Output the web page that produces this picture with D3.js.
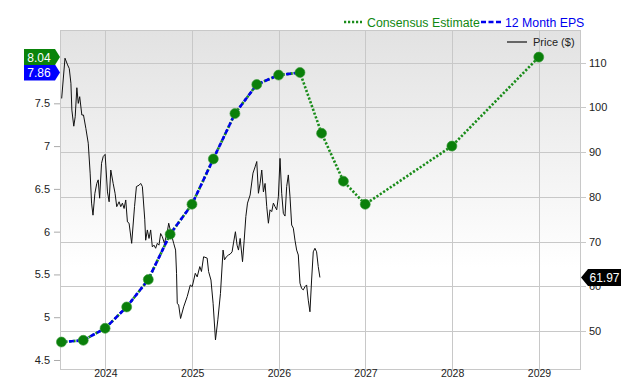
<!DOCTYPE html>
<html><head><meta charset="utf-8">
<script src="https://cdn.jsdelivr.net/npm/d3@7"></script>
<style>body{margin:0;background:#fff;}svg{display:block;font-family:"Liberation Sans",Arial,sans-serif;}</style>
</head><body>
<svg id="chart" width="640" height="380"></svg>
<script>
// ---- data ----
const epsDates = ["2023-06-30","2023-09-30","2023-12-31","2024-03-31","2024-06-30","2024-09-30","2024-12-31","2025-03-31","2025-06-30","2025-09-30","2025-12-31","2026-03-31"];
const epsValues = [4.71,4.73,4.87,5.12,5.44,5.97,6.32,6.85,7.38,7.72,7.83,7.86];
const estDates = ["2026-06-30","2026-09-30","2026-12-31","2027-12-31","2028-12-31"];
const estValues = [7.15,6.59,6.32,7.00,8.04];
const priceDates = ["2023-07-01","2023-07-15","2023-07-26","2023-08-02","2023-08-09","2023-08-13","2023-08-21","2023-08-27","2023-09-03","2023-09-09","2023-09-15","2023-09-24","2023-10-01","2023-10-11","2023-10-21","2023-10-29","2023-11-04","2023-11-10","2023-11-18","2023-11-26","2023-12-02","2023-12-08","2023-12-16","2023-12-23","2023-12-31","2024-01-03","2024-01-10","2024-01-17","2024-01-24","2024-02-03","2024-02-11","2024-02-18","2024-02-28","2024-03-06","2024-03-13","2024-03-20","2024-03-27","2024-04-03","2024-04-10","2024-04-21","2024-04-27","2024-05-03","2024-05-11","2024-05-22","2024-05-29","2024-06-05","2024-06-15","2024-06-19","2024-06-26","2024-07-03","2024-07-10","2024-07-17","2024-07-24","2024-07-31","2024-08-07","2024-08-14","2024-08-21","2024-08-28","2024-09-06","2024-09-18","2024-09-24","2024-10-04","2024-10-15","2024-10-23","2024-10-27","2024-10-30","2024-11-05","2024-11-13","2024-11-26","2024-12-11","2024-12-24","2025-01-01","2025-01-14","2025-01-22","2025-02-02","2025-02-09","2025-02-18","2025-03-05","2025-03-11","2025-03-21","2025-03-30","2025-04-09","2025-04-19","2025-04-30","2025-05-11","2025-05-17","2025-05-25","2025-06-03","2025-06-10","2025-06-18","2025-06-24","2025-07-02","2025-07-09","2025-07-15","2025-07-22","2025-08-01","2025-08-08","2025-08-15","2025-08-22","2025-09-02","2025-09-14","2025-09-23","2025-09-30","2025-10-07","2025-10-14","2025-10-21","2025-10-28","2025-11-04","2025-11-11","2025-11-18","2025-11-25","2025-12-02","2025-12-09","2025-12-16","2025-12-23","2025-12-30","2026-01-06","2026-01-13","2026-01-20","2026-01-27","2026-02-03","2026-02-10","2026-02-17","2026-02-24","2026-03-03","2026-03-10","2026-03-17","2026-03-24","2026-03-31","2026-04-07","2026-04-14","2026-04-21","2026-04-28","2026-05-05","2026-05-12","2026-05-19","2026-05-26","2026-06-02","2026-06-09","2026-06-16","2026-06-23"];
const priceValues = [102.0,111.0,109.5,108.7,105.4,99.4,95.8,97.9,104.4,100.9,102.4,98.3,98.3,95.3,92.0,85.3,78.6,75.9,80.8,83.0,83.8,79.7,87.5,89.0,89.5,87.1,81.1,78.9,86.0,83.0,80.8,77.8,78.9,77.8,78.6,77.4,79.3,74.4,74.1,69.6,73.7,77.8,82.3,82.6,83.0,82.3,75.0,70.3,72.6,70.7,72.6,68.8,69.2,68.5,69.6,69.2,71.8,71.1,69.6,72.2,74.1,71.8,69.6,68.1,62.9,56.2,55.8,52.8,55.4,57.7,60.3,59.9,62.9,62.1,64.4,63.3,66.6,66.3,63.3,61.4,56.2,48.0,52.5,58.4,68.1,65.9,66.6,67.0,67.2,67.7,69.7,72.2,69.2,68.1,70.7,65.5,70.3,75.6,78.6,80.4,85.3,86.7,87.9,80.8,83.0,86.0,81.1,83.0,77.8,74.1,77.1,76.7,78.6,77.8,77.1,80.0,88.6,80.8,76.3,75.7,82.3,84.9,80.0,73.7,73.0,70.3,68.1,67.0,60.7,59.5,59.2,59.9,60.3,56.9,54.3,61.4,67.7,68.5,67.7,64.4,61.97];
const epsTicks = [4.5,5,5.5,6,6.5,7,7.5];
const priceTicks = [50,60,70,80,90,100,110];
const yearTicks = ["2024","2025","2026","2027","2028","2029"];
const lastEst = 8.04, lastEps = 7.86, lastPrice = 61.97;

// ---- layout ----
const L = 60, R = 581, T = 30, B = 370;
const parse = d3.timeParse("%Y-%m-%d");
const svg = d3.select("#chart");

const x = d3.scaleTime().domain([parse("2023-06-24"), parse("2029-06-27")]).range([L, R]);
const yE = d3.scaleLinear().domain([4.383, 8.357]).range([B, T]);
const yP = d3.scaleLinear().domain([41.28, 117.31]).range([B, T]);

// background gradient
const defs = svg.append("defs");
const grad = defs.append("linearGradient").attr("id","bg").attr("x1",0).attr("y1",0).attr("x2",0).attr("y2",1);
grad.append("stop").attr("offset","0%").attr("stop-color","#e2e2e2");
grad.append("stop").attr("offset","70%").attr("stop-color","#ffffff");
grad.append("stop").attr("offset","100%").attr("stop-color","#ffffff");
svg.append("rect").attr("x",L).attr("y",T).attr("width",R-L).attr("height",B-T).attr("fill","url(#bg)");

// grid (price axis horizontal, years vertical)
const grid = svg.append("g");
grid.selectAll("line.h").data(priceTicks).join("line")
  .attr("x1",L).attr("x2",R+5).attr("y1",d=>Math.round(yP(d))+0.5).attr("y2",d=>Math.round(yP(d))+0.5)
  .attr("stroke","#c8c8c8").attr("stroke-width",1);
const yearDates = yearTicks.map(y=>parse(y+"-01-01"));
grid.selectAll("line.v").data(yearDates).join("line")
  .attr("y1",T).attr("y2",B).attr("x1",d=>Math.round(x(d))+0.5).attr("x2",d=>Math.round(x(d))+0.5)
  .attr("stroke","#c8c8c8").attr("stroke-width",1);
svg.append("rect").attr("x",L+0.5).attr("y",T+0.5).attr("width",R-L-1).attr("height",B-T-1)
  .attr("fill","none").attr("stroke","#c8c8c8");

// left axis (EPS)
const axL = svg.append("g").attr("transform",`translate(${L},0)`)
  .call(d3.axisLeft(yE).tickValues(epsTicks).tickSize(6).tickPadding(4).tickFormat(d3.format("")));
axL.select(".domain").remove();
axL.selectAll("line").attr("stroke","#aaa");
axL.selectAll("text").attr("font-size","11px").attr("fill","#222").attr("font-family","Liberation Sans, Arial");

// right axis (price)
const axR = svg.append("g").attr("transform",`translate(${R},0)`)
  .call(d3.axisRight(yP).tickValues(priceTicks).tickSize(0).tickPadding(8));
axR.select(".domain").remove();
axR.selectAll("text").attr("font-size","11px").attr("fill","#222").attr("font-family","Liberation Sans, Arial");

// x axis
const axB = svg.append("g").attr("transform",`translate(0,${B})`)
  .call(d3.axisBottom(x).tickValues(yearDates).tickSize(0).tickPadding(0).tickFormat(d3.timeFormat("%Y")));
axB.select(".domain").remove();
axB.selectAll("text").attr("font-size","10.5px").attr("fill","#222").attr("font-family","Liberation Sans, Arial");

// price line
const price = priceDates.map((d,i)=>({d:parse(d), v:priceValues[i]}));
svg.append("path").datum(price).attr("fill","none").attr("stroke","#111").attr("stroke-width",1)
  .attr("d", d3.line().x(p=>x(p.d)).y(p=>yP(p.v)));

// EPS + estimates
const eps = epsDates.map((d,i)=>({d:parse(d), v:epsValues[i]}));
const est = [eps[eps.length-1]].concat(estDates.map((d,i)=>({d:parse(d), v:estValues[i]})));
const allPts = eps.concat(est.slice(1));
const ln = d3.line().x(p=>x(p.d)).y(p=>yE(p.v));
svg.append("path").datum(allPts).attr("fill","none").attr("stroke","#1a8c1a").attr("stroke-width",2.6)
  .attr("stroke-dasharray","2.2,1.8").attr("d", ln);
svg.append("path").datum(eps).attr("fill","none").attr("stroke","#0000ee").attr("stroke-width",2.6)
  .attr("stroke-dasharray","5,2.5").attr("d", ln);
svg.append("g").selectAll("circle").data(allPts).join("circle")
  .attr("cx",p=>x(p.d)).attr("cy",p=>yE(p.v)).attr("r",5)
  .attr("fill","#0a7f0a").attr("stroke","#3a9a3a").attr("stroke-width",0.6);

// left flags
function flagLeft(v, color, label){
  const yy = yE(v), h = 16, x0 = 24, x1 = 55, tip = 60;
  svg.append("path").attr("d",`M${x0},${yy-h/2}H${x1}L${tip},${yy}L${x1},${yy+h/2}H${x0}Z`).attr("fill",color);
  svg.append("text").attr("x",x0+15).attr("y",yy+4.5).attr("text-anchor","middle").attr("fill","#fff")
    .attr("font-size","12px").text(label);
}
flagLeft(lastEps, "#0000ff", d3.format(".2f")(lastEps));
flagLeft(lastEst, "#0a840a", d3.format(".2f")(lastEst));

// right price flag
(function(){
  const yy = yP(lastPrice), h = 17, x0 = 588, x1 = 621, tip = 581;
  svg.append("path").attr("d",`M${tip},${yy}L${x0},${yy-h/2}H${x1}V${yy+h/2}H${x0}Z`).attr("fill","#000");
  svg.append("text").attr("x",(x0+x1)/2).attr("y",yy+4.5).attr("text-anchor","middle").attr("fill","#fff")
    .attr("font-size","12px").text(d3.format(".2f")(lastPrice));
})();

// legend
const lg = svg.append("g");
lg.append("line").attr("x1",344).attr("x2",362).attr("y1",22).attr("y2",22).attr("stroke","#1a8c1a")
  .attr("stroke-width",2.6).attr("stroke-dasharray","2.2,1.8");
lg.append("text").attr("x",367).attr("y",26.5).attr("fill","#118811").attr("font-size","12.3px").text("Consensus Estimate");
lg.append("line").attr("x1",481).attr("x2",502).attr("y1",22).attr("y2",22).attr("stroke","#0000ee")
  .attr("stroke-width",2.6).attr("stroke-dasharray","5,2.5");
lg.append("text").attr("x",505).attr("y",26.5).attr("fill","#0000ee").attr("font-size","12.3px").text("12 Month EPS");
lg.append("line").attr("x1",507).attr("x2",527).attr("y1",42).attr("y2",42).attr("stroke","#666").attr("stroke-width",2);
lg.append("text").attr("x",533).attr("y",46).attr("fill","#222").attr("font-size","11px").text("Price ($)");
</script>
</body></html>
